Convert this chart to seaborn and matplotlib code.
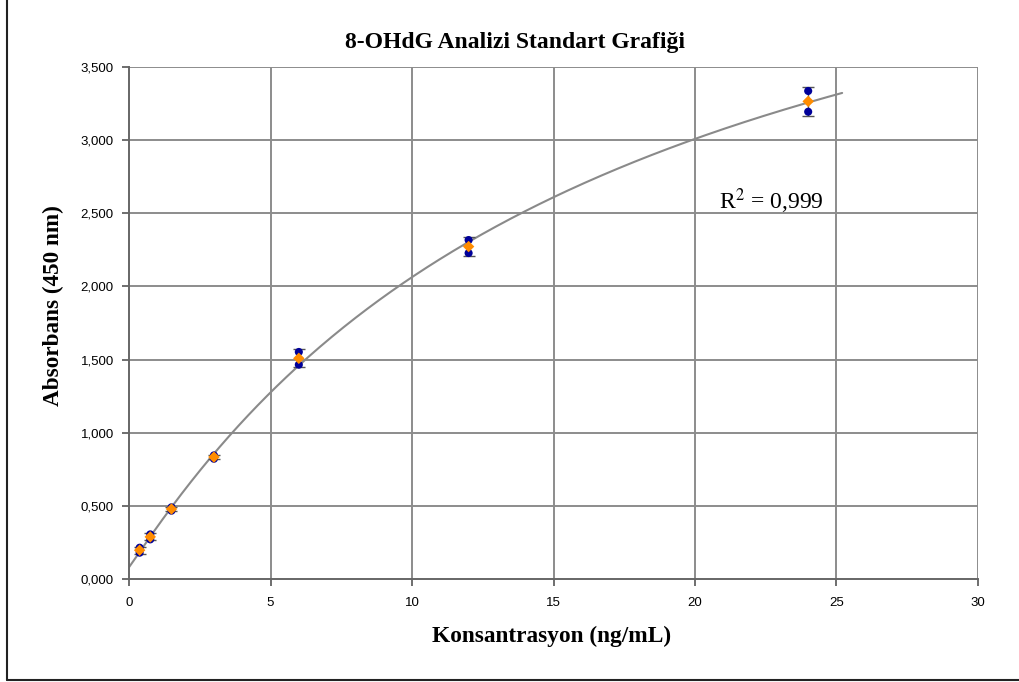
import numpy as np
import pandas as pd
import matplotlib
matplotlib.use("Agg")
import matplotlib.pyplot as plt
import seaborn as sns

# Standard concentrations (ng/mL) and duplicate absorbance readings (450 nm)
concentrations = [0.375, 0.75, 1.5, 3, 6, 12, 24]
absorbance_rep1 = [0.214, 0.305, 0.490, 0.845, 1.552, 2.317, 3.336]
absorbance_rep2 = [0.180, 0.271, 0.467, 0.822, 1.465, 2.228, 3.194]

x_ticks = [0, 5, 10, 15, 20, 25, 30]
y_ticks = [0.0, 0.5, 1.0, 1.5, 2.0, 2.5, 3.0, 3.5]

title_text = "8-OHdG Analizi Standart Grafiği"
x_label = "Konsantrasyon (ng/mL)"
y_label = "Absorbans (450 nm)"
r2_label = "R$^2$ = 0,999"

sns.set_style("white")
plt.rcParams["text.color"] = "black"
plt.rcParams["axes.labelcolor"] = "black"
plt.rcParams["xtick.labelcolor"] = "black"
plt.rcParams["ytick.labelcolor"] = "black"
serif = ["Liberation Serif", "DejaVu Serif"]
sans = ["Liberation Sans", "DejaVu Sans"]

long_df = pd.DataFrame({
    "conc": concentrations * 2,
    "abs": absorbance_rep1 + absorbance_rep2,
})
stats = long_df.groupby("conc")["abs"].agg(["mean", "std"]).reset_index()


def four_pl(x, p):
    a, b, c, d = p
    return d + (a - d) / (1.0 + (np.maximum(x, 0) / c) ** b)


def fit_four_pl(x, y, p0, iters=200):
    """Levenberg-Marquardt fit of a four-parameter logistic curve."""
    p = np.array(p0, dtype=float)
    lam = 1e-2
    err = np.sum((y - four_pl(x, p)) ** 2)
    for _ in range(iters):
        r = y - four_pl(x, p)
        J = np.empty((len(x), len(p)))
        for j in range(len(p)):
            dp = np.zeros_like(p)
            dp[j] = 1e-6 * max(1.0, abs(p[j]))
            J[:, j] = (four_pl(x, p + dp) - four_pl(x, p - dp)) / (2 * dp[j])
        A = J.T @ J
        g = J.T @ r
        step = np.linalg.solve(A + lam * np.diag(np.diag(A)), g)
        p_new = p + step
        if p_new[2] <= 0:
            lam *= 10
            continue
        err_new = np.sum((y - four_pl(x, p_new)) ** 2)
        if err_new < err:
            p, err, lam = p_new, err_new, lam / 3
        else:
            lam *= 5
    return p


xs = long_df["conc"].to_numpy(float)
ys = long_df["abs"].to_numpy(float)
params = fit_four_pl(xs, ys, [0.1, 1.0, 15.0, 5.0])
x_fit = np.linspace(0, 25.2, 300)
fit_df = pd.DataFrame({"conc": x_fit, "abs": four_pl(x_fit, params)})

fig = plt.figure(figsize=(10.2, 6.82), dpi=100)
ax = fig.add_axes([0.1265, 0.151, 0.8323, 0.7508])

grid_c = "#8c8c8c"
for v in x_ticks[1:]:
    ax.axvline(v, color=grid_c, lw=1.4, zorder=0)
for v in y_ticks[1:]:
    ax.axhline(v, color=grid_c, lw=1.4, zorder=0)

sns.lineplot(data=fit_df, x="conc", y="abs", ax=ax, color="#8a8a8a", lw=1.5, zorder=2)
ax.errorbar(stats["conc"], stats["mean"], yerr=stats["std"], fmt="none",
            ecolor="#555555", elinewidth=1.0, capsize=4.5, capthick=1.0, zorder=3)
sns.scatterplot(data=long_df, x="conc", y="abs", ax=ax, color="#000099",
                s=34, edgecolor="none", zorder=4)
sns.scatterplot(data=stats, x="conc", y="mean", ax=ax, color="#ff8c00",
                marker="D", s=34, edgecolor="none", zorder=5)

ax.set_xlim(0, 30)
ax.set_ylim(0, 3.5)
ax.set_xticks(x_ticks)
ax.set_yticks(y_ticks)
ax.set_xticklabels([str(v) for v in x_ticks], fontfamily=sans, fontsize=9.5)
ax.set_yticklabels([f"{v:.3f}".replace(".", ",") for v in y_ticks], fontfamily=sans, fontsize=9.5)
ax.tick_params(axis="x", pad=8)
ax.tick_params(axis="y", pad=6)
ax.tick_params(axis="both", direction="out", length=5, width=1.2, color="#555555",
               left=True, bottom=True, labelcolor="black")

for side in ["top", "right"]:
    ax.spines[side].set_visible(False)
for side in ["left", "bottom"]:
    ax.spines[side].set_color("#666666")
    ax.spines[side].set_linewidth(1.4)

ax.set_xlabel(x_label, fontfamily=serif, fontweight="bold", fontsize=16.8, color="black")
ax.xaxis.set_label_coords(0.498, -0.091)
ax.set_ylabel(y_label, fontfamily=serif, fontweight="bold", fontsize=16.7, color="black")
ax.yaxis.set_label_coords(-0.077, 0.535)
fig.text(0.505, 0.938, title_text, fontfamily=serif, fontweight="bold", fontsize=17,
         ha="center", va="center", color="black")
ax.text(22.7, 2.58, r2_label, fontfamily=serif, fontsize=17, ha="center", va="center",
        math_fontfamily="stix", color="black")

# Figure frame on the left and bottom edges
fig.add_artist(plt.Line2D([0.0069, 0.0069], [0.003, 1.0], transform=fig.transFigure,
                          color="#222222", lw=1.5))
fig.add_artist(plt.Line2D([0.0069, 1.0], [0.003, 0.003], transform=fig.transFigure,
                          color="#222222", lw=1.5))

fig.savefig("out.png", dpi=100)
